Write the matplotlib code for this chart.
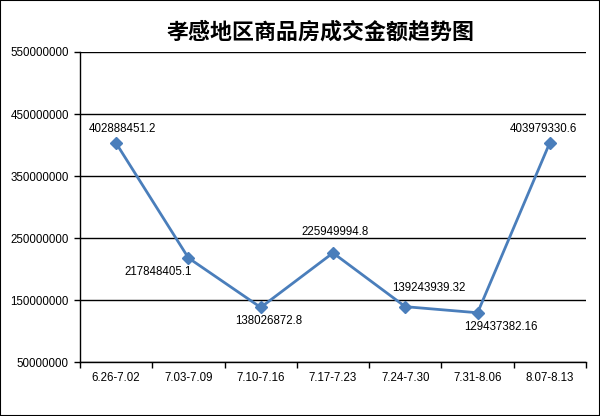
import matplotlib.pyplot as plt
from matplotlib.patches import Rectangle

# weekly periods and total transaction amounts (yuan)
weeks = ["6.26-7.02", "7.03-7.09", "7.10-7.16", "7.17-7.23",
         "7.24-7.30", "7.31-8.06", "8.07-8.13"]
amounts = [402888451.2, 217848405.1, 138026872.8, 225949994.8,
           139243939.32, 129437382.16, 403979330.6]
amount_labels = ["402888451.2", "217848405.1", "138026872.8", "225949994.8",
                 "139243939.32", "129437382.16", "403979330.6"]
y_ticks = [50000000, 150000000, 250000000, 350000000, 450000000, 550000000]

# label offsets (pixels) roughly like Excel's auto placement
label_offsets = [(6, 14), (-30, -14), (8, -14), (2, 21), (24, 19), (23, -14), (-6, 14)]

plt.rcParams["font.family"] = ["Noto Sans CJK SC", "DejaVu Sans"]

fig = plt.figure(figsize=(6, 4.16), dpi=100)
ax = fig.add_axes([0.1333, 0.1298, 0.8434, 0.7452])

x = list(range(len(weeks)))
ax.plot(x, amounts, color="#4a7ebb", linewidth=2.0, marker="D", markersize=6,
        markerfacecolor="#4a7ebb", markeredgecolor="#4a7ebb", zorder=3)

num_font = dict(family="Liberation Sans", fontsize=8.3, color="black")
for xi, yi, lab, (dx, dy) in zip(x, amounts, amount_labels, label_offsets):
    ax.annotate(lab, (xi, yi), xytext=(dx, dy), textcoords="offset pixels",
                ha="center", va="center", **num_font)

ax.set_xlim(-0.5, len(weeks) - 0.5)
ax.set_ylim(50000000, 550000000)
ax.set_yticks(y_ticks)
ax.set_yticklabels([str(v) for v in y_ticks], **num_font)
ax.set_xticks([i - 0.5 for i in range(len(weeks) + 1)])
ax.set_xticklabels([])
ax.set_xticks(x, minor=True)
ax.set_xticklabels(weeks, minor=True, **num_font)
ax.tick_params(axis="x", which="minor", length=0, pad=7)
ax.tick_params(axis="x", which="major", length=4, width=1, direction="out")
ax.tick_params(axis="y", length=4, width=1, direction="out", pad=4)

ax.grid(axis="y", color="black", linewidth=1)
ax.set_axisbelow(True)
for s in ["top", "right"]:
    ax.spines[s].set_visible(False)
for s in ["left", "bottom"]:
    ax.spines[s].set_linewidth(1)

fig.text(0.535, 0.923, "孝感地区商品房成交金额趋势图", ha="center", va="center",
         fontsize=15.8, fontweight="bold")

fig.patches.append(Rectangle((0, 0), 1, 1, transform=fig.transFigure,
                             fill=False, edgecolor="black", linewidth=1.5))

plt.savefig("out.png", dpi=100)
